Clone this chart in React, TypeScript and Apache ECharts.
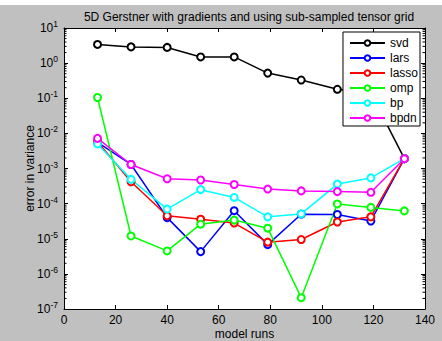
import React, { useEffect, useRef } from "react";
import * as echarts from "echarts";

const modelRuns = [13, 26, 40, 53, 66, 79, 92, 106, 119, 132];
const svd = [3.4, 2.9, 2.8, 1.5, 1.5, 0.52, 0.33, 0.18, 0.14, 0.0019];
const lars = [0.0055, 0.0013, 4e-5, 4.3e-6, 6.3e-5, 6.8e-6, 5e-5, 4.9e-5, 3.2e-5, 0.0019];
const lasso = [0.0058, 0.00042, 4.5e-5, 3.6e-5, 2.8e-5, 8e-6, 9.5e-6, 3e-5, 4.2e-5, 0.0019];
const omp = [0.105, 1.2e-5, 4.5e-6, 2.6e-5, 3.4e-5, 2.0e-5, 2.1e-7, 9.8e-5, 7.8e-5, 6.2e-5];
const bp = [0.005, 0.00049, 7e-5, 2.5e-4, 1.5e-4, 4.2e-5, 5.1e-5, 3.6e-4, 5.4e-4, 0.0019];
const bpdn = [0.0072, 0.0013, 0.00051, 4.7e-4, 3.5e-4, 2.6e-4, 2.3e-4, 2.2e-4, 2.1e-4, 0.0019];

const seriesNames = ["svd", "lars", "lasso", "omp", "bp", "bpdn"];
const seriesData = [svd, lars, lasso, omp, bp, bpdn];
const seriesColors = ["#000000", "#0000ff", "#ff0000", "#00ff00", "#00ffff", "#ff00ff"];

const titleText = "5D Gerstner with gradients and using sub-sampled tensor grid";
const xName = "model runs";
const yName = "error in variance";
const xMin = 0;
const xMax = 140;
const xStep = 20;
const yMin = 1e-7;
const yMax = 10;
// log minor tick positions (2..9 times each decade)
const minorMultipliers = [2, 3, 4, 5, 6, 7, 8, 9];
const decadeExponents = [-7, -6, -5, -4, -3, -2, -1, 0];

export default function App() {
  const ref = useRef<HTMLDivElement>(null);
  useEffect(() => {
    const chart = echarts.init(ref.current!, null, { renderer: "svg" });
    const font = "'Liberation Sans', Arial, sans-serif";
    const supLabel = (v: number) => {
      const e = Math.round(Math.log10(v));
      return `{b|10}{s|${e}}`;
    };
    const minorTickValues: number[] = [];
    decadeExponents.forEach((e) =>
      minorMultipliers.forEach((m) => minorTickValues.push(m * Math.pow(10, e)))
    );
    const baseX = {
      type: "value" as const,
      min: xMin,
      max: xMax,
      interval: xStep,
      axisLine: { show: true, onZero: false, lineStyle: { color: "#000", width: 1 } },
      axisTick: { show: true, inside: true, length: 4, lineStyle: { color: "#000" } },
      splitLine: { show: false },
    };
    const baseY = {
      type: "log" as const,
      logBase: 10,
      min: yMin,
      max: yMax,
      interval: 1,
      axisLine: { show: true, onZero: false, lineStyle: { color: "#000", width: 1 } },
      axisTick: { show: true, inside: true, length: 4, lineStyle: { color: "#000" } },
      minorTick: { show: false },
      splitLine: { show: false },
    };
    chart.setOption({
      animation: false,
      backgroundColor: "#ffffff",
      graphic: [
        {
          type: "rect",
          left: 0,
          top: 5,
          shape: { width: 442, height: 336 },
          style: { fill: "#c0c0c0" },
          z: -10,
          silent: true,
        },
      ],
      title: {
        text: titleText,
        left: 244,
        textAlign: "center",
        top: 6,
        textStyle: { fontFamily: font, fontSize: 12, fontWeight: "normal", color: "#000" },
      },
      grid: {
        left: 64,
        top: 28,
        right: 17,
        bottom: 32,
        outerBoundsMode: "none",
        containLabel: false,
        show: true,
        backgroundColor: "#fff",
        borderWidth: 0,
      },
      legend: {
        orient: "vertical",
        right: 22,
        top: 32,
        z: 20,
        backgroundColor: "#fff",
        borderColor: "#000",
        borderWidth: 1,
        padding: [5, 2, 2, 6],
        itemGap: 3,
        itemWidth: 35,
        itemHeight: 7,
        textStyle: { fontFamily: font, fontSize: 12, color: "#000" },
        data: seriesNames,
      },
      xAxis: [
        {
          ...baseX,
          position: "bottom",
          name: xName,
          nameLocation: "middle",
          nameGap: 19,
          nameMoveOverlap: false,
          nameTextStyle: { fontFamily: font, fontSize: 12, color: "#000" },
          axisLabel: { fontFamily: font, fontSize: 12, color: "#000", margin: 5 },
        },
        {
          ...baseX,
          position: "top",
          axisLabel: { show: false },
        },
      ],
      yAxis: [
        {
          ...baseY,
          position: "left",
          name: yName,
          nameLocation: "middle",
          nameGap: 28,
          nameMoveOverlap: false,
          nameTextStyle: { fontFamily: font, fontSize: 12, color: "#000" },
          axisLabel: {
            margin: 6,
            formatter: supLabel,
            rich: {
              b: { fontFamily: font, fontSize: 12, color: "#000" },
              s: { fontFamily: font, fontSize: 8.5, color: "#000", padding: [0, 0, 8, 0] },
            },
          },
        },
        {
          ...baseY,
          position: "right",
          axisLabel: { show: false },
        },
      ],
      series: [
        ...seriesNames.map((name, k) => ({
          name,
          type: "line",
          xAxisIndex: 0,
          yAxisIndex: 0,
          data: modelRuns.map((x, i) => [x, seriesData[k][i]]),
          symbol: "emptyCircle",
          symbolSize: 7,
          color: seriesColors[k],
          lineStyle: { width: 1.5, color: seriesColors[k] },
          itemStyle: { color: seriesColors[k], borderColor: seriesColors[k], borderWidth: 1.5 },
        })),
        {
          name: "minorTicks",
          type: "custom",
          xAxisIndex: 0,
          yAxisIndex: 0,
          silent: true,
          z: 1,
          data: minorTickValues.map((v) => [xMin, v]),
          renderItem: (params: any, api: any) => {
            const p = api.coord([xMin, api.value(1)]);
            const cs = params.coordSys;
            return {
              type: "group",
              children: [
                {
                  type: "line",
                  shape: { x1: cs.x, y1: p[1], x2: cs.x + 2.5, y2: p[1] },
                  style: { stroke: "#000", lineWidth: 1 },
                },
                {
                  type: "line",
                  shape: { x1: cs.x + cs.width - 2.5, y1: p[1], x2: cs.x + cs.width, y2: p[1] },
                  style: { stroke: "#000", lineWidth: 1 },
                },
              ],
            };
          },
        },
      ],
    });
    return () => chart.dispose();
  }, []);
  return (
    <div
      ref={ref}
      style={{ position: "absolute", left: 0, top: 0, width: 442, height: 341 }}
    />
  );
}
